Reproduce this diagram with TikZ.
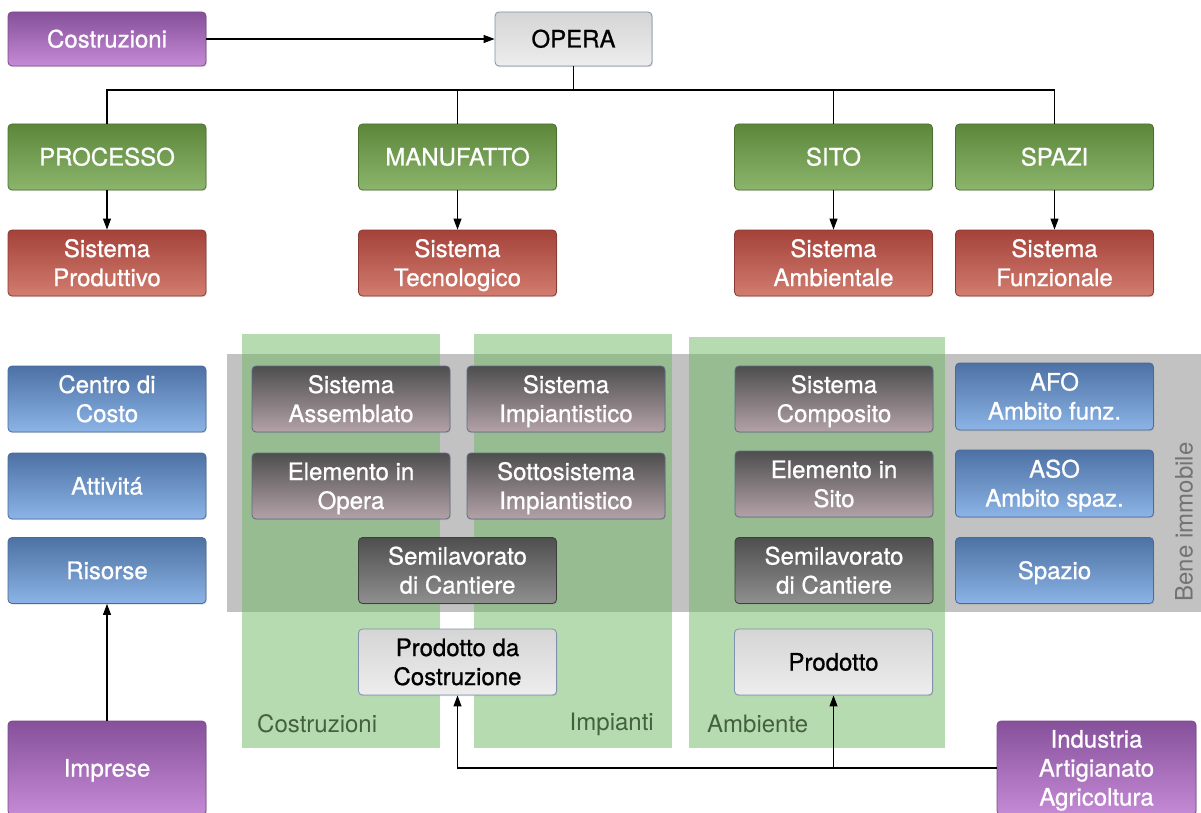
\documentclass[tikz,border=0pt]{standalone}
\usepackage{fontspec}
\newfontfamily\hv[FakeBold=0.8]{TeX Gyre Heros}
\newfontfamily\hvl{TeX Gyre Heros}
\usetikzlibrary{arrows.meta,shadows}
\definecolor{pTop}{HTML}{86509A}
\definecolor{pBot}{HTML}{C58AD6}
\definecolor{pBrd}{HTML}{7A4A8A}
\definecolor{gTop}{HTML}{5C873B}
\definecolor{gBot}{HTML}{8BB56B}
\definecolor{gBrd}{HTML}{4D7032}
\definecolor{rTop}{HTML}{A4423A}
\definecolor{rBot}{HTML}{D27C6F}
\definecolor{rBrd}{HTML}{8A3A32}
\definecolor{bTop}{HTML}{4D71A4}
\definecolor{bBot}{HTML}{8CB4E6}
\definecolor{bBrd}{HTML}{4A6A9A}
\definecolor{dTop}{HTML}{4E4E4E}
\definecolor{dBot}{HTML}{B3A2A7}
\definecolor{dBrd}{HTML}{5D6B86}
\definecolor{sTop}{HTML}{4F4F4F}
\definecolor{sBot}{HTML}{8F8F8F}
\definecolor{sBrd}{HTML}{3F3F3F}
\definecolor{lTop}{HTML}{D5D5D5}
\definecolor{lBot}{HTML}{EDEDED}
\definecolor{lBrd}{HTML}{8090AE}
\definecolor{bandC}{HTML}{C2C2C2}
\definecolor{colC}{HTML}{6FB761}
\definecolor{lblC}{HTML}{43603F}
\newcommand{\ts}{\rule{0pt}{24pt}}
\newcommand{\bs}{\rule[-7pt]{0pt}{7pt}}
\tikzset{
  box/.style={rounded corners=4pt, minimum width=198pt, minimum height=66pt,
    inner sep=0pt, align=center, line width=0.8pt, text=white,
    font={\hv\fontsize{24}{29}\selectfont},
    drop shadow={opacity=0.25, shadow xshift=0.8pt, shadow yshift=-1.2pt}},
  purplebox/.style={box, top color=pTop, bottom color=pBot, draw=pBrd},
  greenbox/.style={box, top color=gTop, bottom color=gBot, draw=gBrd},
  redbox/.style={box, top color=rTop, bottom color=rBot, draw=rBrd},
  bluebox/.style={box, top color=bTop, bottom color=bBot, draw=bBrd},
  darkbox/.style={box, top color=dTop, bottom color=dBot, draw=dBrd},
  semibox/.style={box, top color=sTop, bottom color=sBot, draw=sBrd},
  lightbox/.style={box, top color=lTop, bottom color=lBot, draw=lBrd, text=black},
  conn/.style={line width=1.1pt, black},
  arrowconn/.style={conn, -{Triangle[length=11pt,width=8pt]}},
  band/.style={fill=bandC, draw=none},
  column/.style={fill=colC, fill opacity=0.5, draw=none},
  collabel/.style={text=lblC, font={\hvl\fontsize{24}{29}\selectfont}, inner sep=0pt},
}
\begin{document}
\begin{tikzpicture}[x=1pt,y=-1pt]
\useasboundingbox (0,0) rectangle (1201,813);
% background band and columns
\fill[band] (227,354) rectangle (1201,612);
\fill[column] (242,334) rectangle (440,748);
\fill[column] (474,334) rectangle (672,748);
\fill[column] (689,337) rectangle (945,748);
\node[collabel, anchor=west] (lcostr) at (257,724) {Costruzioni};
\node[collabel, anchor=east] (limp) at (654,724) {Impianti};
\node[collabel, anchor=west] (lamb) at (707,724) {Ambiente};
\node[text=black!55, font={\hvl\fontsize{24}{29}\selectfont}, rotate=90, inner sep=0pt] (bene) at (1184,522) {Bene immobile};
% top
\node[purplebox, minimum height=54pt] (costr) at (107,39) {\ts Costruzioni\bs};
\node[lightbox, minimum width=157pt, minimum height=54pt] (opera) at (573.5,39) {\ts OPERA\bs};
% green row
\node[greenbox] (processo) at (107,157) {\ts PROCESSO\bs};
\node[greenbox] (manufatto) at (457.5,157) {\ts MANUFATTO\bs};
\node[greenbox] (sito) at (833.5,157) {\ts SITO\bs};
\node[greenbox] (spazi) at (1054.5,157) {\ts SPAZI\bs};
% red row
\node[redbox] (sprod) at (107,263) {\ts Sistema\\Produttivo\bs};
\node[redbox] (stecn) at (457.5,263) {\ts Sistema\\Tecnologico\bs};
\node[redbox] (samb) at (833.5,263) {\ts Sistema\\Ambientale\bs};
\node[redbox] (sfunz) at (1054.5,263) {\ts Sistema\\Funzionale\bs};
% left blue
\node[bluebox] (centro) at (107,399) {\ts Centro di\\Costo\bs};
\node[bluebox] (attivita) at (107,486) {\ts Attivitá\bs};
\node[bluebox] (risorse) at (107,570.5) {\ts Risorse\bs};
% costruzioni / impianti
\node[darkbox] (sass) at (351,399) {\ts Sistema\\Assemblato\bs};
\node[darkbox] (simp) at (566,399) {\ts Sistema\\Impiantistico\bs};
\node[darkbox] (eop) at (351,486) {\ts Elemento in\\Opera\bs};
\node[darkbox] (ssimp) at (566,486) {\ts Sottosistema\\Impiantistico\bs};
\node[semibox] (semi1) at (457.5,570.5) {\ts Semilavorato\\di Cantiere\bs};
% ambiente
\node[darkbox] (scomp) at (834,399) {\ts Sistema\\Composito\bs};
\node[darkbox] (esito) at (834,484) {\ts Elemento in\\Sito\bs};
\node[semibox] (semi2) at (834,570.5) {\ts Semilavorato\\di Cantiere\bs};
% right blue
\node[bluebox, minimum height=67pt] (afo) at (1054.5,396.5) {\ts AFO\\Ambito funz.\bs};
\node[bluebox, minimum height=67pt] (aso) at (1054.5,483.5) {\ts ASO\\Ambito spaz.\bs};
\node[bluebox] (spazio) at (1054.5,570.5) {\ts Spazio\bs};
% products
\node[lightbox] (pdc) at (457.5,662) {\ts Prodotto da\\Costruzione\bs};
\node[lightbox] (prod) at (833.5,662) {\ts Prodotto\bs};
% bottom purple
\node[purplebox, minimum height=94pt] (imprese) at (107,768) {\ts Imprese\bs};
\node[purplebox, minimum width=199pt, minimum height=94pt] (industria) at (1096.5,768) {\ts Industria\\Artigianato\\Agricoltura\bs};
% connectors
\draw[arrowconn] (costr.east) -- (opera.west);
\coordinate (bus) at (573.5,90);
\draw[conn] (opera.south) -- (bus);
\draw[conn] (processo.north) |- (bus) -| (spazi.north);
\draw[conn] (manufatto.north) -- (manufatto.north |- bus);
\draw[conn] (sito.north) -- (sito.north |- bus);
\draw[arrowconn] (processo.south) -- (sprod.north);
\draw[arrowconn] (manufatto.south) -- (stecn.north);
\draw[arrowconn] (sito.south) -- (samb.north);
\draw[arrowconn] (spazi.south) -- (sfunz.north);
\draw[arrowconn] (imprese.north) -- (risorse.south);
\draw[arrowconn] (industria.west) -| (pdc.south);
\draw[arrowconn] (industria.west) -| (prod.south);
\end{tikzpicture}
\end{document}
